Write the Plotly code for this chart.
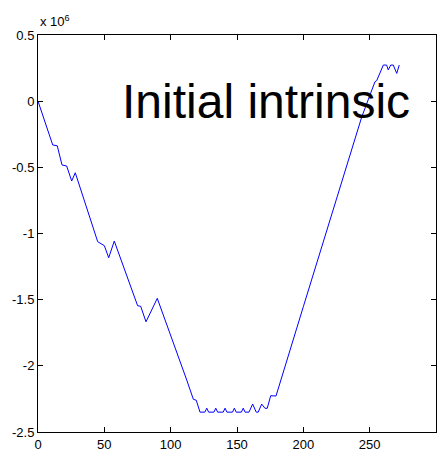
import plotly.graph_objects as go

# Vertex points (y in units of 1e6)
x_vals = [0, 11.1, 14.5, 18.1, 21.6, 25.4, 28.1, 45.0, 50.0, 53.3, 57.5,
          75.1, 77.4, 81.4, 85.7, 89.9, 112.1, 117.1, 119.3, 122.1,
          125.8, 127.2, 128.6, 132.6, 134.0, 135.4, 139.6, 141.0, 142.4,
          146.6, 148.0, 149.4, 153.3, 154.7, 156.1, 159.0, 161.8, 164.5,
          166.0, 168.6, 171.1, 172.8, 175.4, 179.4, 200.0, 235.2, 244.0,
          254.0, 255.3, 260.3, 262.8, 264.0, 265.9, 267.8, 270.4, 272.3]
y_vals = [0.0, -0.331, -0.337, -0.482, -0.490, -0.603, -0.541, -1.062, -1.092, -1.183, -1.057,
          -1.546, -1.550, -1.667, -1.578, -1.490, -2.107, -2.253, -2.260, -2.350,
          -2.350, -2.320, -2.350, -2.350, -2.320, -2.350, -2.350, -2.320, -2.350,
          -2.350, -2.320, -2.350, -2.350, -2.320, -2.350, -2.350, -2.289, -2.350,
          -2.350, -2.289, -2.321, -2.321, -2.226, -2.228, -1.553, -0.419, -0.120,
          0.147, 0.155, 0.273, 0.273, 0.236, 0.273, 0.273, 0.210, 0.273]

x_ticks = [0, 50, 100, 150, 200, 250, 300]
y_ticks = [0.5, 0, -0.5, -1, -1.5, -2, -2.5]
y_tick_labels = ["0.5", "0", "-0.5", "-1", "-1.5", "-2", "-2.5"]

font_family = "Liberation Sans, Arial, Helvetica, sans-serif"

fig = go.Figure()
fig.add_trace(go.Scatter(x=x_vals, y=y_vals, mode="lines",
                         line=dict(color="#0000ff", width=1),
                         showlegend=False))

axis_common = dict(showgrid=False, zeroline=False, showline=True,
                   linecolor="black", linewidth=1, mirror="ticks",
                   ticks="inside", ticklen=5, tickcolor="black",
                   automargin=False,
                   tickfont=dict(family=font_family, size=13, color="black"))

fig.update_xaxes(range=[0, 300], tickmode="array", tickvals=x_ticks,
                 ticktext=[str(v) for v in x_ticks], **axis_common)
fig.update_yaxes(range=[-2.5, 0.5], tickmode="array", tickvals=y_ticks,
                 ticktext=y_tick_labels, **axis_common)

fig.add_annotation(x=62.0, y=0.0, xref="x", yref="y", text="Initial intrinsic",
                   showarrow=False, xanchor="left", yanchor="middle",
                   font=dict(family=font_family, size=48, color="black"))
fig.add_annotation(x=0, y=1.0, xref="paper", yref="paper",
                   text="x 10<sup>6</sup>", showarrow=False,
                   xanchor="left", yanchor="bottom", yshift=4,
                   font=dict(family=font_family, size=13, color="black"))

fig.update_layout(width=444, height=452,
                  margin=dict(l=38, r=8, t=35, b=20),
                  paper_bgcolor="white", plot_bgcolor="white")

fig.write_html("out.html")
